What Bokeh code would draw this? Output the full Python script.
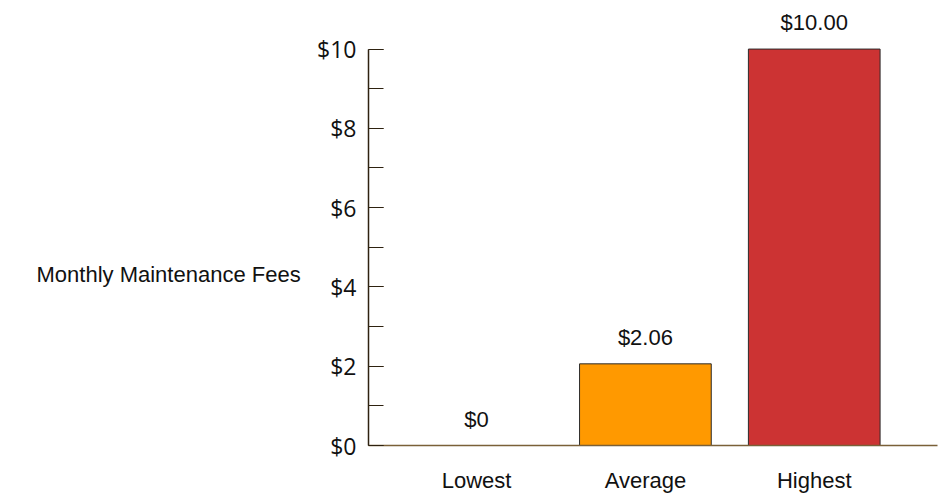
from bokeh.plotting import figure
from bokeh.layouts import row
from bokeh.models import ColumnDataSource, Range1d, FixedTicker, SingleIntervalTicker, NumeralTickFormatter, LabelSet, Label
from bokeh.core.properties import value
from bokeh.embed import file_html
from bokeh.resources import INLINE

categories = ["Lowest", "Average", "Highest"]
fees = [0.0, 2.06, 10.0]
fee_labels = ["$0", "$2.06", "$10.00"]
colors = ["#ff9900", "#ff9900", "#cc3333"]
y_title = "Monthly Maintenance Fees"

idx = list(range(len(categories)))
src = ColumnDataSource(dict(x=idx, top=fees, label=fee_labels, color=colors))

# left strip holding the horizontal y-axis title
t = figure(width=310, height=495, output_backend="svg", toolbar_location=None,
           x_axis_type=None, y_axis_type=None, x_range=Range1d(0, 1), y_range=Range1d(0, 1),
           min_border=0)
t.outline_line_color = None
t.grid.visible = False
t.add_layout(Label(x=36, y=171, x_units="screen", y_units="screen", text=y_title,
                   text_font="Liberation Sans", text_font_size="22px",
                   text_color="#111111", text_align="left", text_baseline="middle"))

p = figure(width=640, height=495, output_backend="svg", toolbar_location=None,
           x_range=Range1d(-0.64, 2.73), y_range=Range1d(0, 11.225),
           min_border_left=58, min_border_right=13, min_border_top=0, min_border_bottom=46)
p.outline_line_color = None
p.grid.visible = False
p.background_fill_color = "white"

p.vbar(x="x", top="top", bottom=0, width=0.78, source=src, fill_color="color",
       line_color="#2b2b2b", line_width=1)

labels = LabelSet(x="x", y="top", text="label", source=src, text_align="center",
                  text_baseline="alphabetic", y_offset=19, text_font=value("Liberation Sans"),
                  text_font_size="22px", text_color="#111111")
p.add_layout(labels)

ya = p.yaxis[0]
ya.ticker = SingleIntervalTicker(interval=2, num_minor_ticks=2)
ya.formatter = NumeralTickFormatter(format="$0")
ya.bounds = (0, 10)
ya.axis_line_color = "#2e2210"
ya.axis_line_width = 1.5
ya.major_tick_line_color = "#2e2210"
ya.minor_tick_line_color = "#2e2210"
ya.major_tick_in = 15
ya.major_tick_out = 0
ya.minor_tick_in = 15
ya.minor_tick_out = 0
ya.major_label_standoff = 12
ya.major_label_text_font = "Open Sans"
ya.major_label_text_font_size = "23px"
ya.major_label_text_color = "#111111"

xa = p.xaxis[0]
xa.ticker = FixedTicker(ticks=idx)
xa.major_label_overrides = {i: c for i, c in zip(idx, categories)}
xa.axis_line_color = "#7a6038"
xa.axis_line_width = 1.5
xa.major_tick_line_color = None
xa.minor_tick_line_color = None
xa.major_label_standoff = 16
xa.major_label_text_font = "Liberation Sans"
xa.major_label_text_font_size = "22px"
xa.major_label_text_color = "#111111"

layout = row(t, p)
open("out.html", "w").write(file_html(layout, INLINE))
